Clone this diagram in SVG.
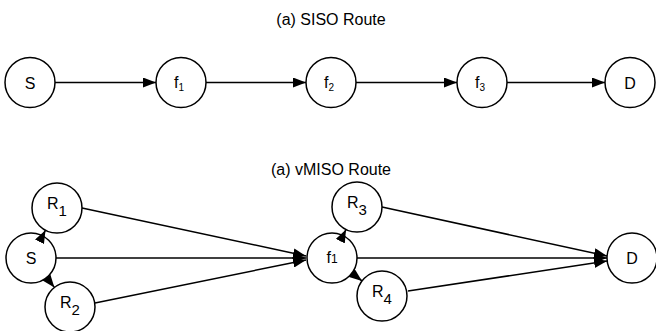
<svg xmlns="http://www.w3.org/2000/svg" width="656" height="331" viewBox="0 0 656 331">
<style>
.n{fill:none;stroke:#000;stroke-width:1.5}
.t{font-family:"Liberation Sans",Arial,sans-serif;font-size:16px;text-anchor:middle;fill:#000}
.title{font-family:"Liberation Sans",Arial,sans-serif;font-size:16px;text-anchor:middle;fill:#000}
.e{stroke:#000;stroke-width:1.5;fill:none;marker-end:url(#ah)}
</style>
<defs>
<marker id="ah" markerUnits="userSpaceOnUse" markerWidth="13" markerHeight="10" refX="13" refY="5" orient="auto">
<path d="M0,0 L13,5 L0,10 z" fill="#000"/>
</marker>
</defs>
<rect width="656" height="331" fill="#fff"/>
<text class="title" x="331" y="25">(a) SISO Route</text>
<text class="title" x="331" y="175">(a) vMISO Route</text>
<g id="connectors">
<path class="e" d="M55,82.5 L156,82.5"/>
<path class="e" d="M206,82.5 L306,82.5"/>
<path class="e" d="M356,82.5 L457,82.5"/>
<path class="e" d="M507,82.5 L605,82.5"/>
<path class="e" d="M82,208 L306,256"/>
<path class="e" d="M56,258 L306,258"/>
<path class="e" d="M95,303 L306,260"/>
<path class="e" d="M382,207 L607,256"/>
<path class="e" d="M357,258 L607,258"/>
<path class="e" d="M408,291 L607,261"/>
<path class="e" d="M39.5,241.7 L45.5,230.2"/>
<path class="e" d="M46.3,277.2 L54.4,287.4"/>
<path class="e" d="M340.3,241.2 L346,229.5"/>
<path class="e" d="M351.7,273 L362,280.9"/>
</g>
<g id="S_top"><circle class="n" cx="30" cy="82.5" r="25"/><text class="t" x="30" y="88.5">S</text></g>
<g id="f1_top"><circle class="n" cx="181" cy="82.5" r="25"/><text class="t" x="179" y="88">f<tspan font-size="10" dy="3">1</tspan></text></g>
<g id="f2_top"><circle class="n" cx="331" cy="82.5" r="25"/><text class="t" x="329" y="88">f<tspan font-size="10" dy="3">2</tspan></text></g>
<g id="f3_top"><circle class="n" cx="482" cy="82.5" r="25"/><text class="t" x="480" y="88">f<tspan font-size="10" dy="3">3</tspan></text></g>
<g id="D_top"><circle class="n" cx="630" cy="82.5" r="25"/><text class="t" x="630" y="88.5">D</text></g>
<g id="R1"><circle class="n" cx="57" cy="208" r="25"/><text class="t" x="57" y="209">R<tspan font-size="15" dy="7">1</tspan></text></g>
<g id="S_bot"><circle class="n" cx="31" cy="258" r="25"/><text class="t" x="31" y="264">S</text></g>
<g id="R2"><circle class="n" cx="70" cy="307" r="25"/><text class="t" x="70" y="308">R<tspan font-size="15" dy="7">2</tspan></text></g>
<g id="R3"><circle class="n" cx="357" cy="207" r="25"/><text class="t" x="357" y="208">R<tspan font-size="15" dy="7">3</tspan></text></g>
<g id="f1_bot"><circle class="n" cx="332" cy="258" r="25"/><text class="t" x="332" y="263">f<tspan font-size="12">1</tspan></text></g>
<g id="R4"><circle class="n" cx="382" cy="296" r="25"/><text class="t" x="382" y="297">R<tspan font-size="15" dy="7">4</tspan></text></g>
<g id="D_bot"><circle class="n" cx="632" cy="258" r="25"/><text class="t" x="632" y="264">D</text></g>
</svg>
